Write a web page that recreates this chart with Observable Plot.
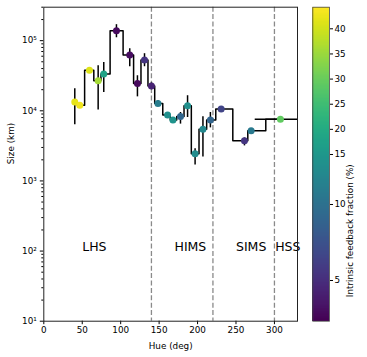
<!DOCTYPE html>
<html>
<head>
<meta charset="utf-8">
<script src="https://cdn.jsdelivr.net/npm/d3@7"></script>
<script src="https://cdn.jsdelivr.net/npm/@observablehq/plot@0.6"></script>
<style>
  html, body { margin: 0; padding: 0; background: white; }
  #wrap { position: relative; width: 367px; height: 357px; }
  #main { position: absolute; left: 0; top: 0; }
  #cbar { position: absolute; left: 305px; top: 0; }
</style>
</head>
<body>
<div id="wrap"><div id="main"></div><div id="cbar"></div></div>
<script>
// Data
const hue = [40.3, 46.8, 59.4, 70.7, 78, 94.5, 111.8, 121.8, 131, 140, 148.5, 161, 168, 177.8, 187, 196.8, 207, 216.7, 230.7, 261, 269.7, 307.8];
const size = [13400, 12000, 38000, 26800, 33400, 139000, 62400, 24500, 53000, 22500, 12700, 8700, 7400, 8300, 11800, 2450, 5470, 7400, 10600, 3730, 5180, 7600];
const sizeLo = [6300, 11200, 35500, 10300, 18200, 110000, 42500, 15800, 42500, 20000, 11500, 8000, 6900, 6460, 8020, 1690, 2200, 5710, 9800, 3160, 4800, 7100];
const sizeHi = [20600, 13000, 41000, 44000, 49000, 169000, 76900, 31600, 65200, 25000, 14000, 9400, 8000, 9460, 16400, 2870, 8200, 9460, 11500, 4100, 5600, 8100];
const feedback = [42, 43, 41, 36, 18, 2.6, 2.8, 2.5, 5.5, 4.2, 11.5, 14, 14.5, 9.1, 14, 13.5, 13, 9, 6.5, 5.5, 11, 29];
// horizontal (hue) extent of the last point
const lastHueLo = [275];
const lastHueHi = [340];

const stateBounds = [140, 220, 300];
const stateNames = ["LHS", "HIMS", "SIMS", "HSS"];
const stateLabelHue = [50, 170, 250, 301];

const xTicks = [0, 50, 100, 150, 200, 250, 300];
const yTicks = [10, 100, 1000, 10000, 100000];
const cbTicks = [5, 10, 15, 20, 25, 30, 35, 40];
// colour norm (value -> fraction of bar)
const cbDomain = [2, 5, 10, 15, 40, 44.3];
const cbFrac = [0, 0.1296, 0.3717, 0.5309, 0.9312, 1];

const pts = hue.map((h, i) => ({hue: h, size: size[i], lo: sizeLo[i], hi: sizeHi[i], fb: feedback[i]}));
const lastPt = [{x1: lastHueLo[0], x2: lastHueHi[0], y: size[size.length - 1]}];

const sup = {"0":"⁰","1":"¹","2":"²","3":"³","4":"⁴","5":"⁵","6":"⁶","7":"⁷","8":"⁸","9":"⁹"};
const fmtPow = d => "10" + String(Math.round(Math.log10(d))).split("").map(c => sup[c]).join("");
const minor = [];
for (let e = 1; e <= 5; e++) for (let m = 2; m <= 9; m++) { const v = m * 10 ** e; if (v <= 3e5) minor.push(v); }

const colorOpts = {type: "linear", scheme: "viridis", domain: cbDomain, range: cbFrac};
const font = "DejaVu Sans, sans-serif";

const W = 305, H = 357, mL = 43.3, mR = 8, mT = 6.7, mB = 36.3;

const main = Plot.plot({
  width: W, height: H,
  marginLeft: mL, marginRight: mR, marginTop: mT, marginBottom: mB,
  style: {fontFamily: font, fontSize: "8.8px", background: "white", color: "black"},
  x: {domain: [0, 330]},
  y: {type: "log", domain: [10, 3e5]},
  color: colorOpts,
  marks: [
    Plot.ruleX(stateBounds, {stroke: "#8a8a8a", strokeWidth: 1.3, strokeDasharray: "5,2.4"}),
    Plot.line(pts, {x: "hue", y: "size", curve: "step", stroke: "black", strokeWidth: 1.5}),
    Plot.ruleX(pts, {x: "hue", y1: "lo", y2: "hi", stroke: "black", strokeWidth: 1.5}),
    Plot.ruleY(lastPt, {x1: "x1", x2: "x2", y: "y", stroke: "black", strokeWidth: 1.5, clip: true}),
    Plot.dot(pts, {x: "hue", y: "size", fill: "fb", r: 3.5, stroke: null}),
    Plot.text(stateNames.map((n, i) => ({n, x: stateLabelHue[i]})), {x: "x", y: () => 100, text: "n", textAnchor: "start", lineAnchor: "bottom", fontSize: 12.5, fill: "black"}),
    Plot.axisX({ticks: xTicks, tickSize: 3.5, tickPadding: 2.5, label: null}),
    Plot.axisY({ticks: minor, tickSize: 2, tickFormat: () => "", label: null}),
    Plot.axisY({ticks: yTicks, tickSize: 3.5, tickPadding: 3.5, tickFormat: fmtPow, label: null}),
    Plot.text(["Hue (deg)"], {frameAnchor: "bottom", dy: 24.5, lineAnchor: "middle", fontSize: 8.8}),
    Plot.text(["Size (km)"], {frameAnchor: "left", dx: -33, rotate: -90, lineAnchor: "middle", fontSize: 8.8}),
    Plot.frame({stroke: "#222", strokeWidth: 1})
  ]
});
document.getElementById("main").appendChild(main);

// Colorbar: y runs over the fraction of the bar; the same norm places the ticks
const norm = d3.scaleLinear().domain(cbDomain).range(cbFrac);
const cW = 62, cT = 6.7, cB = 320.7, cL = 7.3, cR = 24;
const step = 0.002;
const grad = d3.range(0, 1, step);
const cbar = Plot.plot({
  width: cW, height: H,
  marginLeft: cL, marginRight: cW - cR, marginTop: cT, marginBottom: H - cB,
  style: {fontFamily: font, fontSize: "8.8px", background: "white", color: "black"},
  x: {domain: [0, 1], axis: null},
  y: {domain: [0, 1]},
  color: {type: "linear", scheme: "viridis", domain: [0, 1]},
  marks: [
    Plot.rect(grad, {x1: 0, x2: 1, y1: d => d, y2: d => Math.min(d + step * 1.6, 1), fill: d => d + step / 2, shapeRendering: "crispEdges"}),
    Plot.axisY({anchor: "right", ticks: cbTicks.map(v => norm(v)), tickFormat: (t, i) => String(cbTicks[i]), tickSize: 3, tickPadding: 2, label: null}),
    Plot.text(["Intrinsic feedback fraction (%)"], {frameAnchor: "right", dx: 21, rotate: -90, lineAnchor: "middle", fontSize: 8.8}),
    Plot.frame({stroke: "#444", strokeWidth: 0.8})
  ]
});
document.getElementById("cbar").appendChild(cbar);
</script>
</body>
</html>
